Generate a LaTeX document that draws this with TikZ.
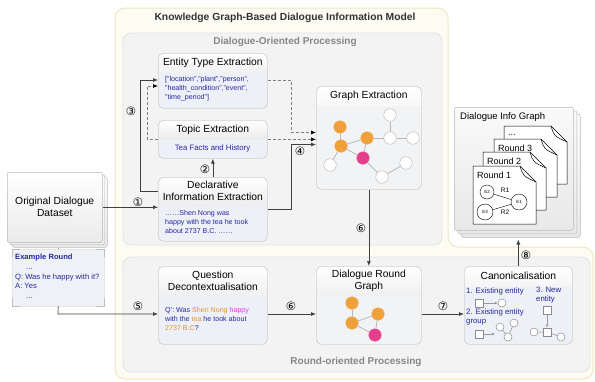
\documentclass[tikz,border=0pt]{standalone}
\usepackage{fontspec}
\setmainfont{Liberation Sans}
\newfontfamily\circfont{DejaVu Sans}
\usepackage{xcolor}
\usepackage{tikz}
\usetikzlibrary{calc,shapes.multipart,arrows,arrows.meta}

\definecolor{modelfill}{RGB}{253,252,243}
\definecolor{modelline}{RGB}{239,232,192}
\definecolor{panelfill}{RGB}{243,243,243}
\definecolor{panelline}{RGB}{226,226,226}
\definecolor{boxline}{RGB}{208,208,208}
\definecolor{bodyfill}{RGB}{237,240,246}
\definecolor{graphfill}{RGB}{242,243,245}
\definecolor{headgray}{RGB}{214,214,214}
\definecolor{txtblue}{RGB}{38,40,158}
\definecolor{titlegray}{RGB}{135,135,135}
\definecolor{nodeorange}{RGB}{240,160,58}
\definecolor{nodepink}{RGB}{230,62,140}
\definecolor{txtorange}{RGB}{228,146,48}
\definecolor{txtmagenta}{RGB}{222,62,222}

\begin{document}
\begin{tikzpicture}[x=1pt,y=-1pt,
    procbox/.style={draw=boxline,fill=bodyfill,rounded corners=5pt,line width=0.7pt,
        inner sep=0pt,anchor=north west,
        path picture={\shade[sharp corners,top color=white,bottom color=headgray]
            (path picture bounding box.north west) rectangle
            ([yshift=-#1]path picture bounding box.north east);}},
    boxtitle/.style={font=\fontsize{10.3}{12}\selectfont,align=center,inner sep=0pt},
    boxbody/.style={font=\fontsize{7.1}{9}\selectfont,text=txtblue,align=left,inner sep=0pt,anchor=north west},
    paneltitle/.style={font=\bfseries\fontsize{10}{11}\selectfont,text=titlegray,inner sep=0pt},
    flow/.style={-{Latex[length=5pt,width=4pt]},draw=black!75,line width=0.7pt},
    dashflow/.style={-{Latex[length=5pt,width=4pt,color=black]},draw=black!50,line width=0.7pt,dash pattern=on 3pt off 2pt},
    smallflow/.style={-{Latex[length=3pt,width=3pt]},draw=black!40,line width=0.6pt},
    numlabel/.style={font=\circfont\fontsize{11.5}{12}\selectfont,inner sep=0pt},
    gnode/.style={circle,minimum size=12.5pt,inner sep=0pt,draw=black!25,fill=white,line width=0.5pt},
    gorange/.style={gnode,fill=nodeorange,draw=nodeorange!85!white},
    gpink/.style={gnode,fill=nodepink,draw=nodepink!85!white},
    gedge/.style={draw=black!28,line width=0.8pt},
    cnode/.style={circle,minimum size=8pt,inner sep=0pt,draw=black!45,fill=white,line width=0.5pt},
    csquare/.style={rectangle,minimum size=8.5pt,inner sep=0pt,draw=black!45,fill=white,line width=0.5pt},
    stackbox/.style={draw=black!28,top color=white,bottom color=black!8,rounded corners=2pt,
        inner sep=0pt,anchor=north west,line width=0.5pt},
    docline/.style={draw=black,fill=white,line width=0.5pt},
    enode/.style={circle,draw=black,line width=0.4pt,inner sep=0pt,font=\fontsize{4.5}{5}\selectfont}
  ]
  \useasboundingbox (0,0) rectangle (595,381);

  % model area and the two panels
  \draw[modelline,fill=modelfill,line width=1pt,rounded corners=10pt]
    (115,8) -- (448,8) -- (448,247) -- (593,247) -- (593,379) -- (115,379) -- cycle;
  \node[font=\bfseries\fontsize{10.3}{11}\selectfont,text=black!80,inner sep=0pt] (model-title) at (285,18)
    {Knowledge Graph-Based Dialogue Information Model};
  \draw[panelline,fill=panelfill,line width=0.8pt,rounded corners=8pt] (123,33) rectangle (442,245);
  \draw[panelline,fill=panelfill,line width=0.8pt,rounded corners=8pt] (123,257) rectangle (590,372);
  \node[paneltitle] (dop-title) at (285,42) {Dialogue-Oriented Processing};
  \node[paneltitle] (rop-title) at (356,362) {Round-oriented Processing};

  % original dataset
  \node[stackbox,minimum width=95pt,minimum height=70pt] (ds3) at (12,177) {};
  \node[stackbox,minimum width=95pt,minimum height=70pt] (ds2) at (9.5,174.5) {};
  \node[stackbox,minimum width=95pt,minimum height=70pt] (ds) at (7,172) {};
  \node[boxtitle] (ds-title) at (ds.center) {Original Dialogue\\Dataset};

  \node[draw=black!10,fill={rgb,255:red,238;green,241;blue,246},minimum width=92pt,minimum height=57pt,
    inner sep=0pt,anchor=north west] (ex) at (12,249) {};
  \draw[black!25,line width=0.7pt] ([yshift=-8pt]ex.north west) -- (ex.north west) -- ([xshift=8pt]ex.north west);
  \draw[black!25,line width=0.7pt] ([yshift=-8pt]ex.north east) -- (ex.north east) -- ([xshift=-8pt]ex.north east);
  \draw[black!25,line width=0.7pt] ([yshift=8pt]ex.south west) -- (ex.south west) -- ([xshift=8pt]ex.south west);
  \draw[black!25,line width=0.7pt] ([yshift=8pt]ex.south east) -- (ex.south east) -- ([xshift=-8pt]ex.south east);
  \node[boxbody,font=\fontsize{7.6}{9.7}\selectfont] (ex-text) at (15,254)
    {\textbf{Example Round}\\\hspace*{11pt}...\\Q: Was he happy with it?\\A: Yes\\\hspace*{11pt}...};
  \draw[black!40,line width=0.7pt] (ex.north) -- (ex.north |- ds3.south);

  % dialogue-oriented boxes
  \node[procbox=19pt,minimum width=109pt,minimum height=55pt] (ete) at (158,53) {};
  \node[boxtitle] (ete-title) at ([yshift=-9.5pt]ete.north) {Entity Type Extraction};
  \node[boxbody] (ete-body) at (165,76)
    {["location","plant","person",\\"health\_condition","event",\\"time\_period"]};

  \node[procbox=19pt,minimum width=109pt,minimum height=38pt] (topic) at (158,120) {};
  \node[boxtitle] (topic-title) at ([yshift=-9.5pt]topic.north) {Topic Extraction};
  \node[boxbody,anchor=center,font=\fontsize{7.8}{9}\selectfont] (topic-body) at (212.5,148) {Tea Facts and History};

  \node[procbox=28pt,minimum width=109pt,minimum height=64pt] (decl) at (158,177) {};
  \node[boxtitle] (decl-title) at ([yshift=-14pt]decl.north) {Declarative\\Information Extraction};
  \node[boxbody] (decl-body) at (165,210)
    {……Shen Nong was\\happy with the tea he took\\about 2737 B.C. ……};

  \node[procbox=19pt,fill=graphfill,minimum width=105pt,minimum height=103pt] (gext) at (316,86) {};
  \node[boxtitle] (gext-title) at ([yshift=-9.5pt]gext.north) {Graph Extraction};
  \node[gorange] (g1) at (340,127) {};
  \node[gorange] (g2) at (341,146) {};
  \node[gorange] (g3) at (367,138) {};
  \node[gpink] (g4) at (363,158) {};
  \node[gnode] (g5) at (390,115) {};
  \node[gnode] (g6) at (390,138) {};
  \node[gnode] (g7) at (413,138) {};
  \node[gnode] (g8) at (330,165) {};
  \node[gnode] (g9) at (382,177) {};
  \node[gnode] (g10) at (406,163) {};
  \foreach \a/\b in {g1/g2,g2/g3,g2/g4,g3/g4,g3/g6,g5/g6,g6/g7,g2/g8,g4/g9,g9/g10}
    \draw[gedge] (\a) -- (\b);

  % round-oriented boxes
  \node[procbox=30pt,minimum width=109pt,minimum height=78pt] (qd) at (158,266) {};
  \node[boxtitle] (qd-title) at ([yshift=-15pt]qd.north) {Question\\Decontextualisation};
  \node[boxbody] (qd-body) at (165,307)
    {Q': Was \textcolor{txtorange}{Shen Nong} \textcolor{txtmagenta}{happy}\\with the \textcolor{txtorange}{tea} he took about\\\textcolor{txtorange}{2737 B.C}?};

  \node[procbox=29pt,fill=graphfill,minimum width=105pt,minimum height=78pt] (drg) at (316,266) {};
  \node[boxtitle] (drg-title) at ([yshift=-14.5pt]drg.north) {Dialogue Round\\Graph};
  \node[gorange] (r1) at (352,303) {};
  \node[gorange] (r2) at (352,323) {};
  \node[gorange] (r3) at (378,314) {};
  \node[gpink] (r4) at (375,335) {};
  \foreach \a/\b in {r1/r2,r2/r3,r2/r4,r3/r4}
    \draw[gedge] (\a) -- (\b);

  \node[procbox=20pt,minimum width=108pt,minimum height=78pt] (canon) at (464,266) {};
  \node[boxtitle] (canon-title) at ([yshift=-10pt]canon.north) {Canonicalisation};
  \node[boxbody,font=\fontsize{7.8}{9}\selectfont,anchor=west] (c1-text) at (466,291) {1. Existing entity};
  \node[csquare] (sq1) at (479,303) {};
  \node[cnode] (c1) at (502,303) {};
  \draw[smallflow] (sq1) -- (c1);
  \node[boxbody,font=\fontsize{7.8}{9}\selectfont] (c2-text) at (466,309) {2. Existing entity\\group};
  \node[csquare] (sq2) at (479,334) {};
  \node[cnode] (t1) at (500,327) {};
  \node[cnode] (t2) at (514,323) {};
  \node[cnode] (t3) at (508,337) {};
  \coordinate (sq2-to) at (495,334);
  \draw[smallflow] (sq2) -- (sq2-to);
  \draw[black!45,line width=0.5pt] (t1) -- (t3) -- (t2);
  \node[boxbody,font=\fontsize{7.8}{9}\selectfont] (c3-text) at (536,287) {3. New\\entity};
  \node[csquare] (sq3) at (547,310) {};
  \node[csquare] (sq4) at (547,332) {};
  \node[cnode] (c4) at (534,332) {};
  \node[cnode] (c5) at (561,337) {};
  \draw[smallflow] (sq3) -- (sq4);
  \draw[black!45,line width=0.5pt] (c4) -- (sq4) -- (c5);

  % dialogue info graph
  \node[stackbox,top color=black!2,bottom color=black!9,minimum width=119pt,minimum height=123pt] (dig3) at (461,114) {};
  \node[stackbox,top color=black!2,bottom color=black!9,minimum width=119pt,minimum height=123pt] (dig2) at (457.5,110.5) {};
  \node[stackbox,top color=black!2,bottom color=black!9,minimum width=119pt,minimum height=123pt] (dig) at (454,107) {};
  \node[font=\fontsize{9.5}{11}\selectfont,anchor=west,inner sep=0pt] (dig-title) at (460,117) {Dialogue Info Graph};
  \foreach \dx/\dy/\lab in {504/126/{...},494/139/{Round 3},483/152/{Round 2},473/166/{Round 1}} {
    \draw[docline] (\dx,\dy) -- ++(47,0) -- ++(16,16) -- ++(0,42) -- ++(-63,0) -- cycle;
    \draw[line width=0.5pt] (\dx+47,\dy) .. controls (\dx+50,\dy+10) .. (\dx+63,\dy+16);
    \node[font=\fontsize{9}{10}\selectfont,anchor=west,inner sep=0pt] (doc-\dx) at (\dx+4,\dy+9) {\lab};
  }
  \node[enode,minimum size=14pt] (e2) at (487,192) {E2};
  \node[enode,minimum size=16pt] (e1) at (519,202) {E1};
  \node[enode,minimum size=16pt] (e3) at (485,212) {E3};
  \draw[line width=0.4pt] (e2) -- (e1);
  \draw[line width=0.4pt] (e3) -- (e1);
  \node[font=\fontsize{6.5}{7}\selectfont,inner sep=0pt] (rel1) at (505,190) {R1};
  \node[font=\fontsize{6.5}{7}\selectfont,inner sep=0pt] (rel2) at (505,212) {R2};

  % connectors
  \draw[flow] (ds.east) -- (ds.east -| decl.west);
  \node[numlabel] (n1) at (138,202) {①};
  \draw[flow] (decl.north) -- (topic.south);
  \node[numlabel] (n2) at (205,169) {②};
  \coordinate (c3) at (140,80);
  \draw[flow] ([yshift=18pt]decl.west) -| (c3) -- (c3 -| ete.west);
  \node[numlabel] (n3) at (131,111) {③};
  \coordinate (c3d) at (147,86);
  \draw[dashflow] (topic.west) -| (c3d) -- (c3d -| ete.west);
  \coordinate (c4a) at (291,132.5);
  \draw[dashflow] ([yshift=0.5pt]ete.east) -| (c4a) -- (c4a -| gext.west);
  \draw[dashflow] (topic.east) -- (topic.east -| gext.west);
  \coordinate (c4) at (291,144.5);
  \draw[flow] (decl.east) -| (c4) -- (c4 -| gext.west);
  \node[numlabel] (n4) at (300,151) {④};
  \coordinate (c5) at (58,314);
  \draw[flow] (ex.south) -- (c5) -- (c5 -| qd.west);
  \node[numlabel] (n5) at (138,306) {⑤};
  \draw[flow] (c5 -| qd.east) -- (c5 -| drg.west);
  \node[numlabel] (n6a) at (291,306) {⑥};
  \draw[flow] (gext.south) -- (drg.north);
  \node[numlabel] (n6b) at (361,228) {⑥};
  \draw[flow] (c5 -| drg.east) -- (c5 -| canon.west);
  \node[numlabel] (n7) at (443,306) {⑦};
  \draw[flow] (canon.north) -- ([yshift=-2pt]canon.north |- dig3.south);
  \node[numlabel] (n8) at (526,255) {⑧};
\end{tikzpicture}
\end{document}
